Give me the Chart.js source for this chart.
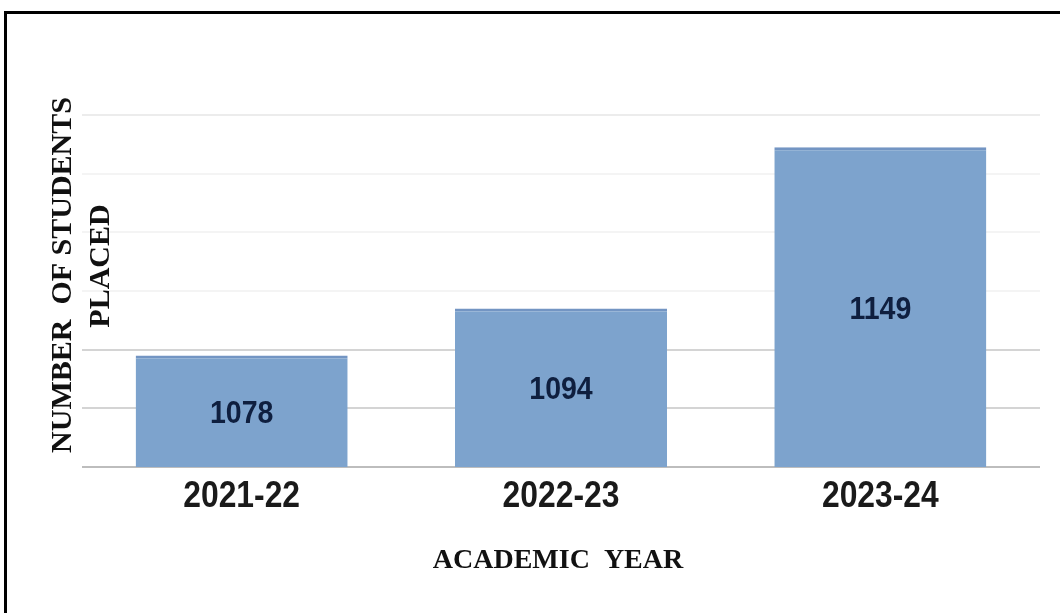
<!DOCTYPE html>
<html>
<head>
<meta charset="utf-8">
<script src="https://cdn.jsdelivr.net/npm/chart.js@4.4.1/dist/chart.umd.min.js"></script>
<style>
  html, body { margin: 0; padding: 0; background: #fff; }
  #wrap { position: relative; width: 1060px; height: 613px; }
  #frame {
    position: absolute; left: 4px; top: 11px; right: -4px; bottom: -4px;
    border-left: 3px solid #000; border-top: 3px solid #000;
    pointer-events: none;
  }
</style>
</head>
<body>
<div id="wrap">
  <canvas id="placements" width="1060" height="613"></canvas>
  <div id="frame"></div>
</div>
<script>
const years = ['2021-22', '2022-23', '2023-24'];
const placed = [1078, 1094, 1149];
const yMin = 1040;
const yMax = 1160;
const yStep = 20;

// narrow-looking text: draw with a horizontal squeeze
function squeezed(ctx, text, x, y, sx) {
    ctx.save();
    ctx.translate(x, y);
    ctx.scale(sx, 1);
    ctx.fillText(text, 0, 0);
    ctx.restore();
}

// year labels under the bars, value labels inside the bars, axis titles
const textPlugin = {
    id: 'textPlugin',
    afterDraw(chart) {
        const ctx = chart.ctx;
        const xScale = chart.scales.x;
        const yScale = chart.scales.y;
        ctx.save();
        ctx.textAlign = 'center';
        ctx.textBaseline = 'middle';

        ctx.fillStyle = '#1a1a1a';
        ctx.font = 'bold 37px "Liberation Sans", sans-serif';
        years.forEach((yr, i) => {
            squeezed(ctx, yr, xScale.getPixelForValue(i), 497, 0.86);
        });

        ctx.fillStyle = '#0f1f3f';
        ctx.font = 'bold 31px "Liberation Sans", sans-serif';
        placed.forEach((v, i) => {
            const top = yScale.getPixelForValue(v);
            const bottom = yScale.getPixelForValue(yMin);
            squeezed(ctx, String(v), xScale.getPixelForValue(i), (top + bottom) / 2 + 3, 0.92);
        });

        ctx.fillStyle = '#111';
        ctx.font = 'bold 28px "Liberation Serif", serif';
        ctx.fillText('ACADEMIC  YEAR', 558, 561);

        ctx.font = 'bold 30px "Liberation Serif", serif';
        ctx.save();
        ctx.translate(63, 275);
        ctx.rotate(-Math.PI / 2);
        ctx.fillText('NUMBER  OF STUDENTS', 0, 0);
        ctx.restore();
        ctx.save();
        ctx.translate(101, 266);
        ctx.rotate(-Math.PI / 2);
        ctx.fillText('PLACED', 0, 0);
        ctx.restore();

        ctx.restore();
    }
};

function gridColor(c) {
    const v = c.tick ? c.tick.value : null;
    if (v === yMin) return '#bdbdbd';
    if (v === 1060 || v === 1080) return '#d4d4d4';
    if (v === yMax) return '#ececec';
    return '#f4f4f4';
}

new Chart(document.getElementById('placements'), {
    type: 'bar',
    data: {
        labels: years,
        datasets: [{
            data: placed,
            backgroundColor: '#7da3cd',
            borderColor: '#7395c3',
            borderWidth: { top: 3, left: 0, right: 0, bottom: 0 },
            borderSkipped: false,
            categoryPercentage: 1,
            barPercentage: 0.664
        }]
    },
    options: {
        responsive: false,
        animation: false,
        layout: { padding: { left: 82, right: 20, top: 115, bottom: 0 } },
        plugins: {
            legend: { display: false },
            tooltip: { enabled: false }
        },
        scales: {
            x: {
                grid: { display: false },
                border: { display: false },
                ticks: { display: false },
                afterFit(scale) { scale.height = 146; }
            },
            y: {
                min: yMin,
                max: yMax,
                ticks: { display: false, stepSize: yStep },
                border: { display: false },
                grid: {
                    drawTicks: false,
                    color: gridColor,
                    lineWidth: 2
                },
                afterFit(scale) { scale.width = 0; }
            }
        }
    },
    plugins: [textPlugin]
});
</script>
</body>
</html>
